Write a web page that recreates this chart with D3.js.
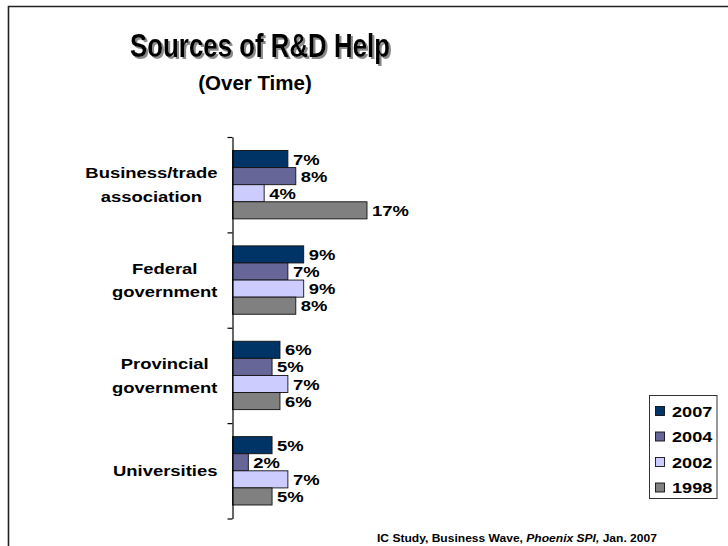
<!DOCTYPE html>
<html>
<head>
<meta charset="utf-8">
<script src="https://cdn.jsdelivr.net/npm/d3@7/dist/d3.min.js"></script>
<style>
  html, body { margin: 0; padding: 0; background: #fff; }
  svg { display: block; }
  text { font-family: "Liberation Sans", Arial, sans-serif; font-weight: bold; fill: #000; }
</style>
</head>
<body>
<script>
// Sources of R&D help, share of respondents by survey year
const categories = ["Business/trade association", "Federal government", "Provincial government", "Universities"];
const categoryLines = [["Business/trade", "association"], ["Federal", "government"], ["Provincial", "government"], ["Universities"]];
const years = ["2007", "2004", "2002", "1998"];
const values2007 = [7, 9, 6, 5];
const values2004 = [8, 7, 5, 2];
const values2002 = [4, 9, 7, 7];
const values1998 = [17, 8, 6, 5];
const yearColors = ["#003366", "#666699", "#CCCCFF", "#808080"];

const seriesValues = [values2007, values2004, values2002, values1998];
const rows = [];
categories.forEach((c, i) => {
  years.forEach((yr, j) => rows.push({ category: c, year: yr, value: seriesValues[j][i], color: yearColors[j] }));
});

const W = 728, H = 546;
const svg = d3.select("body").append("svg").attr("width", W).attr("height", H);

// drop shadow for the title
svg.append("defs").append("filter")
  .attr("id", "titleShadow").attr("x", "-5%").attr("y", "-20%").attr("width", "115%").attr("height", "150%")
  .append("feDropShadow")
  .attr("dx", 2).attr("dy", 2).attr("stdDeviation", 0.4)
  .attr("flood-color", "#8a8a8a").attr("flood-opacity", 1);

// slide frame (top and left rules)
svg.append("path")
  .attr("d", `M8.5,${H} V6.5 H${W}`)
  .attr("fill", "none").attr("stroke", "#222").attr("stroke-width", 1.6);

// title and subtitle
svg.append("text")
  .attr("x", 130).attr("y", 56.5)
  .attr("font-size", 34)
  .attr("textLength", 260).attr("lengthAdjust", "spacingAndGlyphs")
  .attr("filter", "url(#titleShadow)")
  .text("Sources of R&D Help");
svg.append("text")
  .attr("x", 255).attr("y", 90).attr("text-anchor", "middle")
  .attr("font-size", 20.5)
  .text("(Over Time)");

// scales
const y0 = d3.scaleBand().domain(categories).range([137, 518.5]);
const y1 = d3.scaleBand().domain(years).range([13.5, y0.bandwidth() - 13.5]);
const x = d3.scaleLinear().domain([0, 17]).range([232.5, 367]);
const stretch = 1.19;

// bars
svg.append("g").selectAll("rect").data(rows).join("rect")
  .attr("x", x(0))
  .attr("y", d => y0(d.category) + y1(d.year))
  .attr("width", d => x(d.value) - x(0))
  .attr("height", y1.bandwidth())
  .attr("fill", d => d.color)
  .attr("stroke", "#111").attr("stroke-width", 0.9);

// value labels
svg.append("g").selectAll("text").data(rows).join("text")
  .attr("transform", d => `translate(${x(d.value) + 5},${y0(d.category) + y1(d.year) + y1.bandwidth() / 2}) scale(${stretch},1)`)
  .attr("dy", "0.36em")
  .attr("font-size", 15.5)
  .text(d => d3.format(".0%")(d.value / 100));

// category axis with ticks at band boundaries
const yIdx = d3.scaleLinear().domain([0, categories.length]).range(y0.range());
svg.append("g")
  .attr("transform", `translate(${x(0)},0)`)
  .call(d3.axisLeft(yIdx).ticks(categories.length).tickFormat("").tickSize(5).tickSizeOuter(0))
  .call(g => g.selectAll("path, line").attr("stroke", "#000").attr("stroke-width", 1.2));

// category labels: right-aligned block, lines centred within it
const labelRight = 217.5;
const lineGap = 23.7;
categories.forEach((c, i) => {
  const lines = categoryLines[i];
  const g = svg.append("g");
  const texts = lines.map(l => g.append("text").attr("font-size", 15.5).text(l));
  const widths = texts.map(t => t.node().getComputedTextLength() * stretch);
  const blockW = d3.max(widths);
  const cx = labelRight - blockW / 2;
  const mid = y0(c) + y0.bandwidth() / 2;
  const firstBase = mid + 5.5 - (lines.length - 1) * lineGap / 2;
  texts.forEach((t, k) => {
    t.attr("text-anchor", "middle")
     .attr("transform", `translate(${cx},${firstBase + k * lineGap}) scale(${stretch},1)`);
  });
});

// legend
const lg = svg.append("g");
lg.append("rect").attr("x", 649.5).attr("y", 395.5).attr("width", 67.5).attr("height", 103)
  .attr("fill", "#fff").attr("stroke", "#333").attr("stroke-width", 1);
const ly = d3.scalePoint().domain(years).range([411, 487.5]);
years.forEach((yr, j) => {
  lg.append("rect").attr("x", 655.5).attr("y", ly(yr) - 4.5).attr("width", 9).attr("height", 9)
    .attr("fill", yearColors[j]).attr("stroke", "#111").attr("stroke-width", 0.9);
  lg.append("text")
    .attr("transform", `translate(672,${ly(yr)}) scale(1.17,1)`)
    .attr("dy", "0.36em").attr("font-size", 15.5)
    .text(yr);
});

// source note
const note = svg.append("text").attr("font-size", 11.2);
note.append("tspan").text("IC Study, Business Wave, ");
note.append("tspan").attr("font-style", "italic").text("Phoenix SPI,");
note.append("tspan").text(" Jan. 2007");
const noteW = note.node().getComputedTextLength();
note.attr("transform", `translate(377,542) scale(${280 / noteW},1)`);
</script>
</body>
</html>
